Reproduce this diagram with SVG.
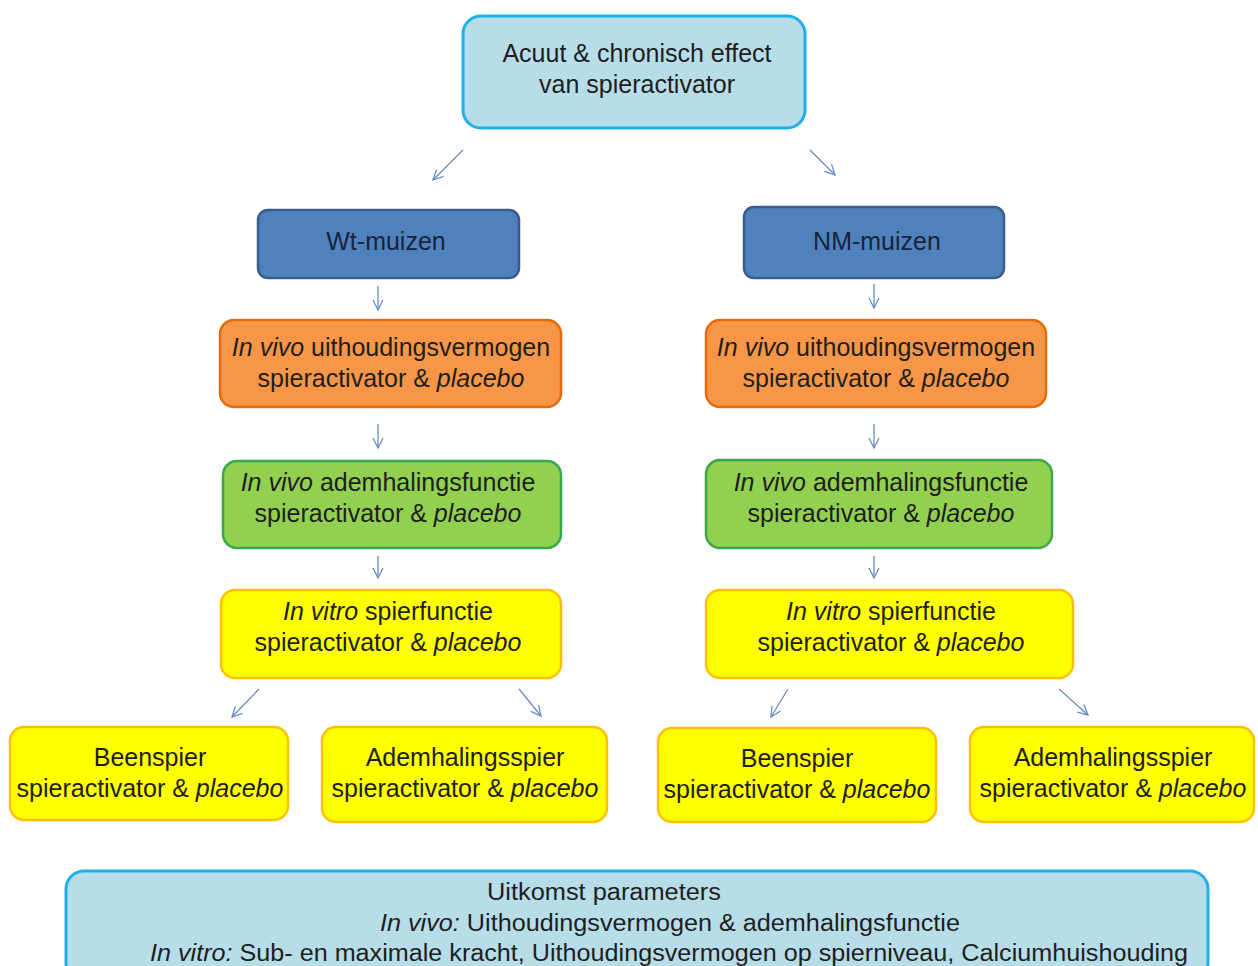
<svg xmlns="http://www.w3.org/2000/svg" width="1258" height="966" viewBox="0 0 1258 966">
<style>
text{font-family:"Liberation Sans",Arial,sans-serif;font-size:25px;fill:#1e1e1e;text-anchor:middle}
.i{font-style:italic}
.cyan{fill:#b7dde8;stroke:#1fb0e8;stroke-width:3}
.blue{fill:#4f81bd;stroke:#385d8a;stroke-width:2.5}
.orange{fill:#f79646;stroke:#e36c09;stroke-width:2.5}
.green{fill:#92d050;stroke:#3aa84a;stroke-width:2.5}
.yellow{fill:#ffff00;stroke:#ffc000;stroke-width:2.5}
.blue + text{fill:#17243a}
.edge{stroke:#6b8cc0;stroke-width:1.3;fill:none;marker-end:url(#ah)}
.small{font-size:23px}
</style>
<defs>
<marker id="ah" viewBox="0 0 12 12" refX="11" refY="6" markerWidth="12" markerHeight="12" markerUnits="userSpaceOnUse" orient="auto">
<polyline points="1,1 11,6 1,11" fill="none" stroke="#6b8cc0" stroke-width="1.3"/>
</marker>
</defs>
<rect width="1258" height="966" fill="#ffffff"/>
<g id="connectors">
<line class="edge" x1="463" y1="150" x2="433" y2="180"/>
<line class="edge" x1="810" y1="150" x2="835" y2="175"/>
<line class="edge" x1="378" y1="286" x2="378" y2="310"/>
<line class="edge" x1="874" y1="284" x2="874" y2="308"/>
<line class="edge" x1="378" y1="424" x2="378" y2="448"/>
<line class="edge" x1="874" y1="424" x2="874" y2="448"/>
<line class="edge" x1="378" y1="556" x2="378" y2="578"/>
<line class="edge" x1="874" y1="556" x2="874" y2="578"/>
<line class="edge" x1="259" y1="689" x2="232" y2="717"/>
<line class="edge" x1="519" y1="689" x2="541" y2="716"/>
<line class="edge" x1="788" y1="689" x2="771" y2="717"/>
<line class="edge" x1="1059" y1="689" x2="1088" y2="715"/>
</g>
<g id="top">
<rect class="cyan" x="463" y="16" width="342" height="112" rx="18"/>
<text x="637" y="62">Acuut &amp; chronisch effect</text>
<text x="637" y="93">van spieractivator</text>
</g>
<g id="wt">
<rect class="blue" x="258" y="210" width="261" height="68" rx="10"/>
<text x="386" y="250" fill="#17243a" style="fill:#17243a">Wt-muizen</text>
</g>
<g id="nm">
<rect class="blue" x="744" y="207" width="260" height="71" rx="10"/>
<text x="877" y="250" style="fill:#17243a">NM-muizen</text>
</g>
<g id="wt-vivo-uit">
<rect class="orange" x="220" y="320" width="341" height="87" rx="14"/>
<text x="391" y="356"><tspan class="i">In vivo</tspan> uithoudingsvermogen</text>
<text x="391" y="387">spieractivator &amp; <tspan class="i">placebo</tspan></text>
</g>
<g id="nm-vivo-uit">
<rect class="orange" x="706" y="320" width="340" height="87" rx="14"/>
<text x="876" y="356"><tspan class="i">In vivo</tspan> uithoudingsvermogen</text>
<text x="876" y="387">spieractivator &amp; <tspan class="i">placebo</tspan></text>
</g>
<g id="wt-vivo-adem">
<rect class="green" x="223" y="461" width="338" height="87" rx="14"/>
<text x="388" y="491"><tspan class="i">In vivo</tspan> ademhalingsfunctie</text>
<text x="388" y="522">spieractivator &amp; <tspan class="i">placebo</tspan></text>
</g>
<g id="nm-vivo-adem">
<rect class="green" x="706" y="460" width="346" height="88" rx="14"/>
<text x="881" y="491"><tspan class="i">In vivo</tspan> ademhalingsfunctie</text>
<text x="881" y="522">spieractivator &amp; <tspan class="i">placebo</tspan></text>
</g>
<g id="wt-vitro">
<rect class="yellow" x="221" y="590" width="340" height="88" rx="14"/>
<text x="388" y="620"><tspan class="i">In vitro</tspan> spierfunctie</text>
<text x="388" y="651">spieractivator &amp; <tspan class="i">placebo</tspan></text>
</g>
<g id="nm-vitro">
<rect class="yellow" x="706" y="590" width="367" height="88" rx="14"/>
<text x="891" y="620"><tspan class="i">In vitro</tspan> spierfunctie</text>
<text x="891" y="651">spieractivator &amp; <tspan class="i">placebo</tspan></text>
</g>
<g id="wt-been">
<rect class="yellow" x="10" y="727" width="278" height="93" rx="14"/>
<text x="150" y="766">Beenspier</text>
<text x="150" y="797">spieractivator &amp; <tspan class="i">placebo</tspan></text>
</g>
<g id="wt-adem">
<rect class="yellow" x="322" y="727" width="285" height="95" rx="14"/>
<text x="465" y="766">Ademhalingsspier</text>
<text x="465" y="797">spieractivator &amp; <tspan class="i">placebo</tspan></text>
</g>
<g id="nm-been">
<rect class="yellow" x="658" y="728" width="278" height="94" rx="14"/>
<text x="797" y="767">Beenspier</text>
<text x="797" y="798">spieractivator &amp; <tspan class="i">placebo</tspan></text>
</g>
<g id="nm-adem">
<rect class="yellow" x="970" y="727" width="284" height="95" rx="14"/>
<text x="1113" y="766">Ademhalingsspier</text>
<text x="1113" y="797">spieractivator &amp; <tspan class="i">placebo</tspan></text>
</g>
<g id="uitkomst">
<rect class="cyan" x="66" y="871" width="1142" height="110" rx="18"/>
<text class="small" x="604" y="900" textLength="234" lengthAdjust="spacingAndGlyphs">Uitkomst parameters</text>
<text class="small" x="380" y="931" style="text-anchor:start" textLength="580" lengthAdjust="spacingAndGlyphs"><tspan class="i">In vivo:</tspan> Uithoudingsvermogen &amp; ademhalingsfunctie</text>
<text class="small" x="150" y="961" style="text-anchor:start" textLength="1038" lengthAdjust="spacingAndGlyphs"><tspan class="i">In vitro:</tspan> Sub- en maximale kracht, Uithoudingsvermogen op spierniveau, Calciumhuishouding</text>
</g>
</svg>
